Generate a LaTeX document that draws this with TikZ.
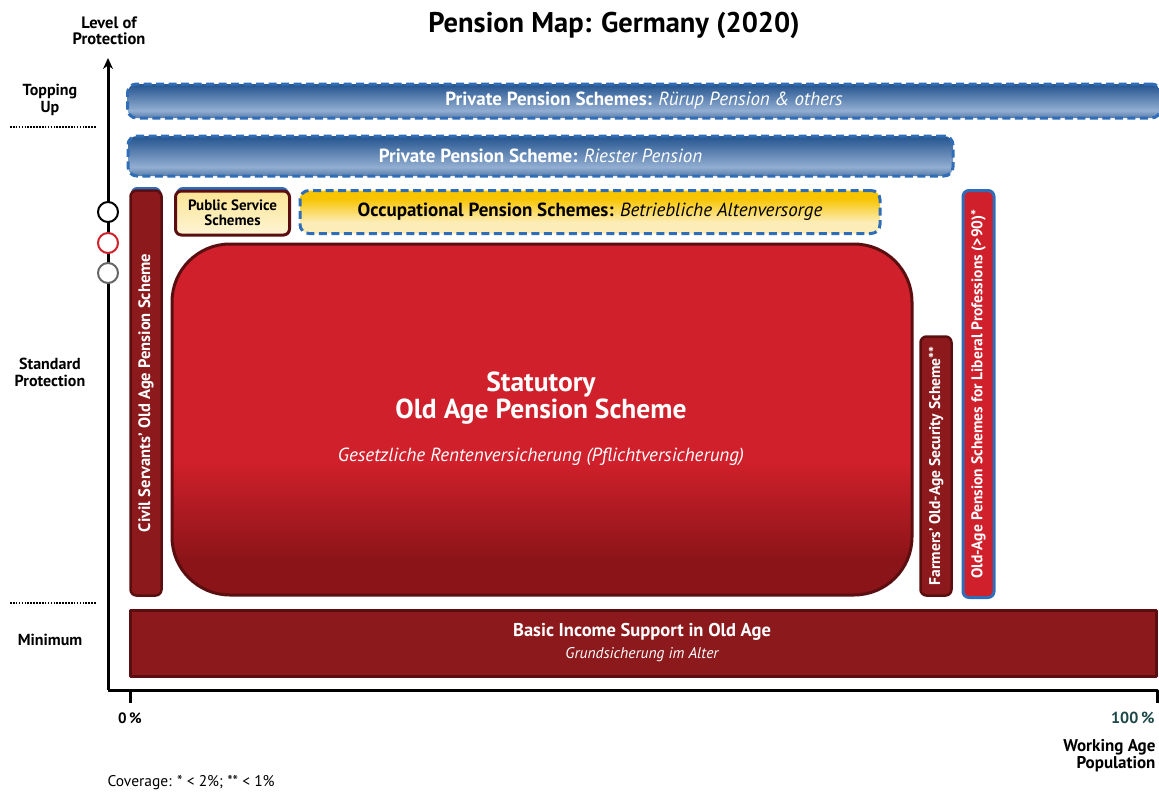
\documentclass[tikz,border=0pt]{standalone}
\usepackage{fontspec}
\setmainfont{PT Sans}
\usetikzlibrary{arrows.meta}
\definecolor{pmBlue}{HTML}{2F6DB8}
\definecolor{pmBlueDark}{HTML}{2B5A93}
\definecolor{pmBlueLight}{HTML}{93AED2}
\definecolor{pmRed}{HTML}{D0202B}
\definecolor{pmRedDark}{HTML}{8B1418}
\definecolor{pmMaroon}{HTML}{8C1A1D}
\definecolor{pmEdge}{HTML}{5A0E10}
\definecolor{pmGold}{HTML}{F8C400}
\definecolor{pmCream}{HTML}{FCEDB8}
\definecolor{pmTeal}{HTML}{1E4848}
\newcommand{\fs}[2]{\fontsize{#1}{#2}\selectfont}
% verlaeufe (pfad liegt zwischen 25bp und 75bp)
\pgfdeclareverticalshading{blueshade}{100bp}{color(0bp)=(pmBlueDark); color(25bp)=(pmBlueDark!80!white);
  color(36bp)=(pmBlueLight); color(72bp)=(pmBlueDark); color(100bp)=(pmBlueDark)}
\pgfdeclareverticalshading{redshade}{100bp}{color(0bp)=(pmRedDark); color(30bp)=(pmRedDark);
  color(44bp)=(pmRed); color(100bp)=(pmRed)}
\pgfdeclareverticalshading{goldshade}{100bp}{color(0bp)=(pmCream); color(38bp)=(pmCream);
  color(66bp)=(pmGold); color(100bp)=(pmGold)}
\tikzset{
  dashbox/.style={draw=pmBlue, line width=3pt, dash pattern=on 8pt off 4.5pt, rounded corners=9pt},
  bluebar/.style={dashbox, shading=blueshade, text=white, font=\bfseries\fs{19}{22}},
  goldbar/.style={dashbox, shading=goldshade, font=\bfseries\fs{19}{22}},
  redbar/.style={draw=pmEdge, line width=2.5pt, fill=pmMaroon, rounded corners=6pt,
    text=white, font=\bfseries\fs{15.5}{18}, inner sep=0pt},
  lvl/.style={font=\bfseries\fs{16}{17}, align=center},
  dots/.style={line width=2.5pt, dash pattern=on 1.6pt off 1.3pt},
  ring/.style={circle, fill=white, line width=2pt, minimum size=20pt, inner sep=0pt}
}
\begin{document}
\begin{tikzpicture}[x=1pt, y=-1pt, line cap=butt, line join=round, >=stealth]
  \useasboundingbox (0,0) rectangle (1159,792);
  % titel und achsen
  \node[font=\bfseries\fs{28.5}{30}] (title) at (614,25) {Pension Map: Germany (2020)};
  \node[lvl, font=\bfseries\fs{16.5}{16.5}] (ylab) at (109,31) {Level of\\Protection};
  \coordinate (O) at (108,690);
  \coordinate (Top) at (108,58);
  \coordinate (End) at (1157,690);
  \draw[line width=3pt, -{Stealth[length=11pt,width=10pt]}] (O) -- (Top);
  \draw[line width=3pt] (O) -- (End) -- ++(0,13);
  \draw[line width=3pt] (130,690) -- ++(0,13);
  \node[ring, draw=black] (c1) at (108,212) {};
  \node[ring, draw=pmRed] (c2) at (108,243) {};
  \node[ring, draw=black!60] (c3) at (108,273) {};
  % stufen links
  \node[lvl] (top) at (50,100) {Topping\\Up};
  \node[lvl] (std) at (50,372) {Standard\\Protection};
  \node[lvl] (min) at (50,640) {Minimum};
  \draw[dots] (10,127) -- (96,127);
  \draw[dots] (10,603) -- (96,603);
  \node[font=\bfseries\fs{15}{15}] (p0) at (130,718) {0\,\%};
  \node[font=\bfseries\fs{16}{16}, text=pmTeal, anchor=east] (p100) at (1158,718) {100\,\%};
  \node[font=\bfseries\fs{17}{17}, align=right, anchor=north east] (xlab) at (1159,736) {Working Age\\Population};
  \node[font=\fs{15.5}{16}, anchor=west] (cov) at (104,783) {Coverage: * < 2\%; ** < 1\%};
  % private saeulen
  \node[bluebar, minimum width=1033pt, minimum height=34pt] (rurup) at (644,101)
    {Private Pension Schemes: \normalfont\itshape Rürup Pension \& others};
  \node[bluebar, minimum width=825pt, minimum height=40pt] (riester) at (540.5,156)
    {Private Pension Scheme: \normalfont\itshape Riester Pension};
  \node[goldbar, minimum width=580pt, minimum height=43pt] (occ) at (590,212)
    {Occupational Pension Schemes: \normalfont\itshape Betriebliche Altenversorge};
  % oeffentlicher dienst
  \fill[pmBlue, rounded corners=6pt] (131,187) rectangle (161,205);
  \fill[pmBlue, rounded corners=7pt] (176,187) rectangle (289,205);
  \node[redbar, rotate=90, minimum width=405pt, minimum height=31pt, font=\bfseries\fs{16.5}{18}] (civil) at (146,393)
    {Civil Servants' Old Age Pension Scheme};
  \node[draw=pmEdge, line width=3pt, top color=pmCream!80!pmGold, bottom color=pmCream!60!white,
    rounded corners=6pt, minimum width=114pt, minimum height=44pt, align=center,
    font=\bfseries\fs{15}{15}, inner sep=0pt] (pub) at (232.5,213) {Public Service\\Schemes};
  % gesetzliche rente
  \node[draw=pmEdge, line width=3pt, rounded corners=58pt, minimum width=740pt, minimum height=351pt,
    shading=redshade] (stat) at (542,419.5) {};
  \node[text=white, font=\bfseries\fs{27.5}{27}, align=center] (statname) at (541,398)
    {Statutory\\Old Age Pension Scheme};
  \node[text=white, font=\itshape\fs{19}{19}] (statsub) at (541,457)
    {Gesetzliche Rentenversicherung (Pflichtversicherung)};
  % sondersysteme
  \node[redbar, rotate=90, minimum width=259pt, minimum height=31pt] (farm) at (936,466)
    {Farmers' Old-Age Security Scheme**};
  \node[redbar, draw=pmBlue, fill=pmRed, line width=3pt, rotate=90, minimum width=407pt,
    minimum height=31pt] (lib) at (978.5,394)
    {Old-Age Pension Schemes for Liberal Professions (>90)*};
  % grundsicherung
  \node[draw=pmEdge, line width=3pt, fill=pmMaroon, minimum width=1026pt, minimum height=66pt,
    inner sep=0pt] (basic) at (643,643) {};
  \node[text=white, font=\bfseries\fs{18.5}{18}] (basicname) at (642,632) {Basic Income Support in Old Age};
  \node[text=white, font=\itshape\fs{15.5}{15}] (basicsub) at (642,655) {Grundsicherung im Alter};
\end{tikzpicture}
\end{document}
